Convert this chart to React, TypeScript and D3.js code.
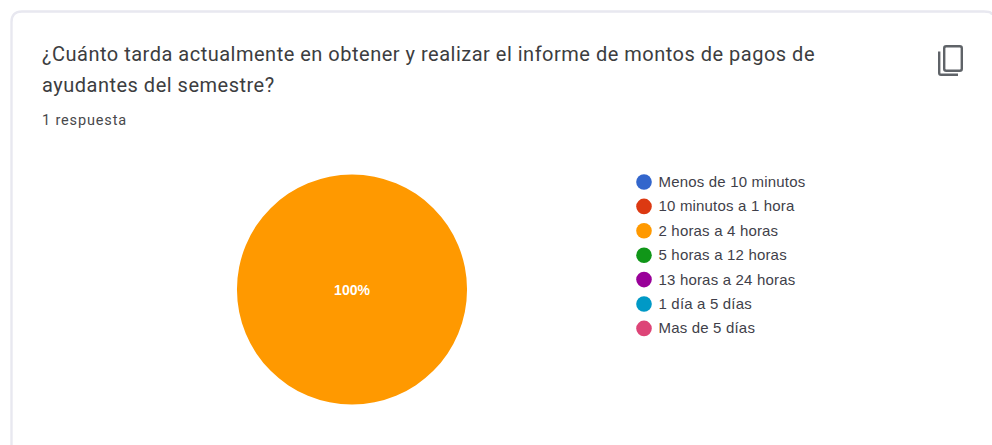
import React from "react";
import * as d3 from "d3";

const categories = ["Menos de 10 minutos", "10 minutos a 1 hora", "2 horas a 4 horas", "5 horas a 12 horas", "13 horas a 24 horas", "1 día a 5 días", "Mas de 5 días"];
const values = [0, 0, 1, 0, 0, 0, 0];
const colors = ["#3366cc", "#dc3912", "#ff9900", "#109618", "#990099", "#0099c6", "#dd4477"];
const titleLines = ["¿Cuánto tarda actualmente en obtener y realizar el informe de montos de pagos de", "ayudantes del semestre?"];
const subtitle = "1 respuesta";
const W = 992, H = 445;
const cx = 352, cy = 289.5, R = 115;
const legendX = 645, legendTop = 182, legendStep = 24.4;

export default function App() {
  const total = d3.sum(values);
  const pie = d3.pie<number>().sort(null).value((d) => d)(values);
  const arc = d3.arc<d3.PieArcDatum<number>>().innerRadius(0).outerRadius(R);
  const y = d3.scaleLinear().domain([0, 1]).range([legendTop, legendTop + legendStep]);
  React.useLayoutEffect(() => {
    document.body.style.margin = "0";
    document.body.style.background = "#fff";
  }, []);
  return (
    <svg width={W} height={H} style={{ display: "block" }}>
      <rect width={W} height={H} fill="#ffffff" />
      <path d={`M11.5 445 V22 Q11.5 11.5 22 11.5 H984 Q992 11.5 992 15`} fill="none" stroke="#e8e8f0" strokeWidth={2.4} />
      <g fontFamily="Roboto, sans-serif">
        {titleLines.map((t, i) => (
          <text key={i} x={42} y={61 + i * 31} fontSize={20} fill="#3c3d40" letterSpacing={0.5}>{t}</text>
        ))}
        <text x={42} y={125} fontSize={14.5} fill="#48494c" letterSpacing={0.85}>{subtitle}</text>
      </g>
      <g fill="none" stroke="#5f6368" strokeWidth={2.4}>
        <rect x={944.2} y={46.2} width={17.6} height={24.6} rx={2} />
        <path d="M939.2 51.5 V73 Q939.2 74.8 941 74.8 H958" />
      </g>
      <g transform={`translate(${cx},${cy})`}>
        {pie.map((p, i) => p.value > 0 && <path key={i} d={arc(p) ?? ""} fill={colors[i]} />)}
        {pie.map((p, i) => p.value > 0 && (
          <text key={i} x={0} y={5} textAnchor="middle" fontFamily="'Liberation Sans', Arial, sans-serif" fontWeight={700} fontSize={14} fill="#ffffff">
            {d3.format(".0%")(p.value / total)}
          </text>
        ))}
      </g>
      <g fontFamily="'Liberation Sans', Arial, sans-serif" fontSize={15} fill="#3f3f4a" letterSpacing={0.18}>
        {categories.map((c, i) => (
          <g key={c}>
            <circle cx={legendX - 1} cy={y(i)} r={7.8} fill={colors[i]} />
            <text x={legendX + 13.5} y={y(i) + 5}>{c}</text>
          </g>
        ))}
      </g>
    </svg>
  );
}
